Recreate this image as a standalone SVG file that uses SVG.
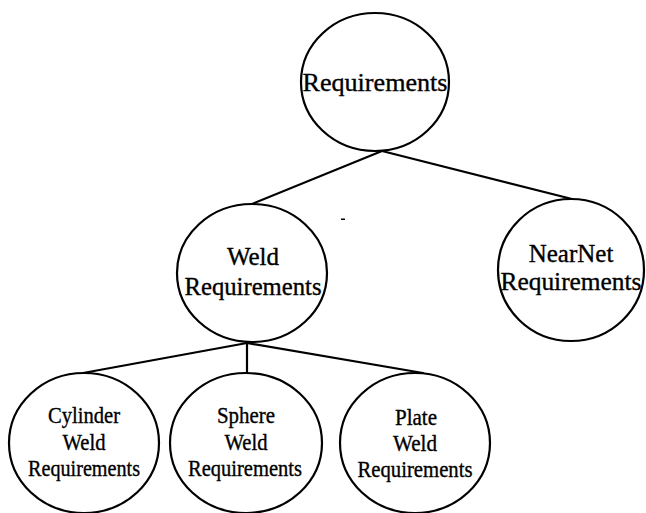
<svg xmlns="http://www.w3.org/2000/svg" width="646" height="513" viewBox="0 0 646 513">
<style>
.n{fill:#fff;stroke:#000;stroke-width:2.2}
.c{stroke:#000;stroke-width:2.2;fill:none;stroke-linecap:round}
.t{font-family:"Liberation Serif","Times New Roman",serif;fill:#000;stroke:#000;stroke-width:0.35;text-anchor:middle}
.big{font-size:26px}
.mid{font-size:25px}
.sm{font-size:23px}
</style>
<rect width="646" height="513" fill="#fff"/>
<g id="connectors">
<line class="c" x1="382" y1="151" x2="252" y2="204"/>
<line class="c" x1="382" y1="151" x2="572" y2="199"/>
<line class="c" x1="247" y1="343" x2="83" y2="373"/>
<line class="c" x1="247" y1="343" x2="247" y2="373"/>
<line class="c" x1="247" y1="343" x2="423" y2="373"/>
</g>
<g id="requirements">
<ellipse class="n" cx="375" cy="82" rx="74" ry="69"/>
<text class="t big" x="375" y="91" textLength="145" lengthAdjust="spacingAndGlyphs">Requirements</text>
</g>
<g id="weld">
<ellipse class="n" cx="252" cy="273" rx="75" ry="69"/>
<text class="t mid" x="253" y="265">Weld</text>
<text class="t mid" x="253" y="295" textLength="137" lengthAdjust="spacingAndGlyphs">Requirements</text>
</g>
<g id="nearnet">
<ellipse class="n" cx="571" cy="270" rx="73" ry="71"/>
<text class="t mid" x="571" y="262">NearNet</text>
<text class="t mid" x="571" y="290" textLength="141" lengthAdjust="spacingAndGlyphs">Requirements</text>
</g>
<g id="cylinder">
<ellipse class="n" cx="84" cy="443" rx="75" ry="70"/>
<text class="t sm" x="84" y="423" textLength="72" lengthAdjust="spacingAndGlyphs">Cylinder</text>
<text class="t sm" x="84" y="450" textLength="43" lengthAdjust="spacingAndGlyphs">Weld</text>
<text class="t sm" x="84" y="476" textLength="112" lengthAdjust="spacingAndGlyphs">Requirements</text>
</g>
<g id="sphere">
<ellipse class="n" cx="246" cy="443" rx="76" ry="70"/>
<text class="t sm" x="246" y="423" textLength="58" lengthAdjust="spacingAndGlyphs">Sphere</text>
<text class="t sm" x="246" y="450" textLength="43" lengthAdjust="spacingAndGlyphs">Weld</text>
<text class="t sm" x="245" y="476" textLength="114" lengthAdjust="spacingAndGlyphs">Requirements</text>
</g>
<g id="plate">
<ellipse class="n" cx="415" cy="443" rx="75" ry="70"/>
<text class="t sm" x="416" y="425" textLength="42" lengthAdjust="spacingAndGlyphs">Plate</text>
<text class="t sm" x="415" y="451" textLength="44" lengthAdjust="spacingAndGlyphs">Weld</text>
<text class="t sm" x="415" y="477" textLength="115" lengthAdjust="spacingAndGlyphs">Requirements</text>
</g>
<rect x="341" y="218.5" width="4" height="1.5" fill="#000"/>
</svg>
